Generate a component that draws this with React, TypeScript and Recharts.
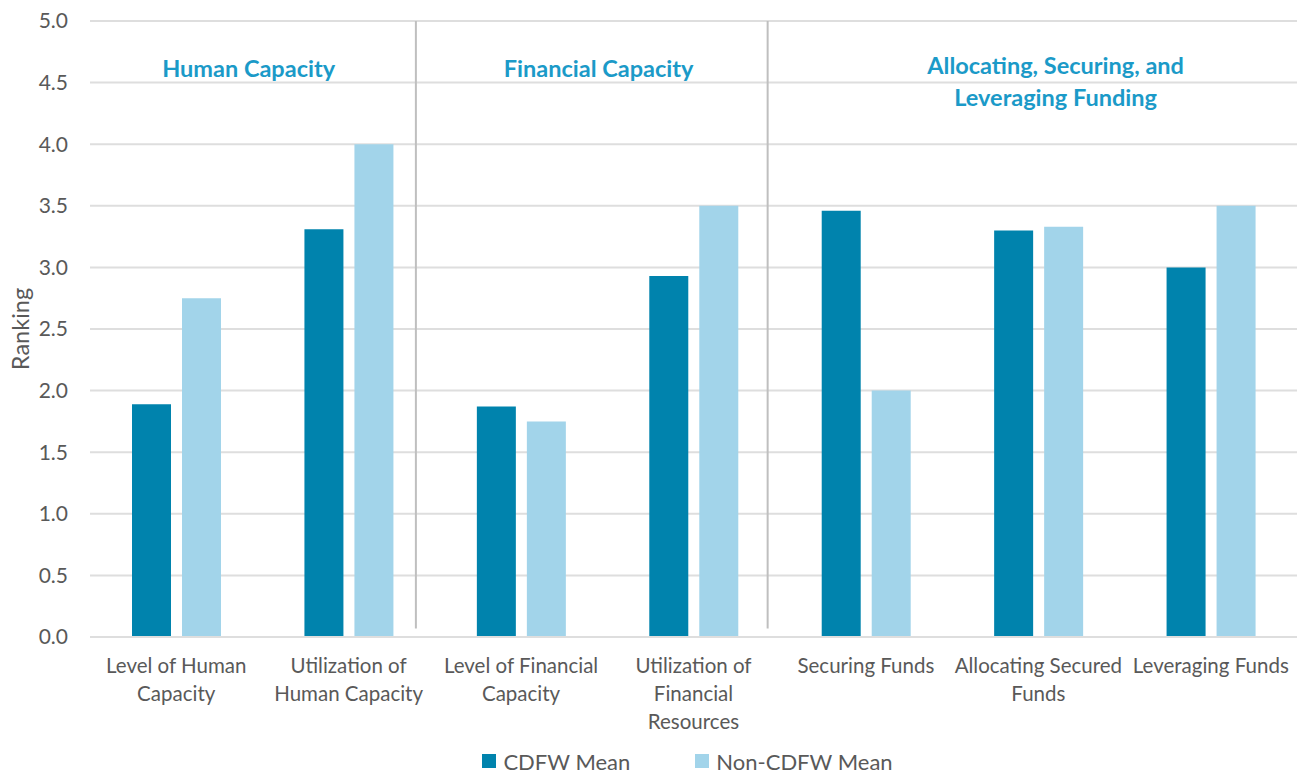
import {
  BarChart,
  Bar,
  XAxis,
  YAxis,
  CartesianGrid,
  Legend,
  ReferenceLine,
  ReferenceDot,
} from "recharts";

const categories = [
  "Level of Human\nCapacity",
  "Utilization of\nHuman Capacity",
  "Level of Financial\nCapacity",
  "Utilization of\nFinancial\nResources",
  "Securing Funds",
  "Allocating Secured\nFunds",
  "Leveraging Funds",
];
const cdfwMean = [1.89, 3.31, 1.87, 2.93, 3.46, 3.3, 3.0];
const nonCdfwMean = [2.75, 4.0, 1.75, 3.5, 2.0, 3.33, 3.5];
const yTicks = [0, 0.5, 1, 1.5, 2, 2.5, 3, 3.5, 4, 4.5, 5];

// section headings, placed in category units along the x axis
const sectionTitles = [
  "Human Capacity",
  "Financial Capacity",
  "Allocating, Securing, and\nLeveraging Funding",
];
const sectionTitleX = [0.92, 2.95, 5.6];
const sectionTitleY = [4.62, 4.62, 4.51];
const dividerX = [1.89, 3.93];

const DARK = "#0083ad";
const LIGHT = "#a2d4ea";
const TEXT = "#595959";
const TITLE = "#1b9ac8";
const FONT = "Lato, 'Open Sans', sans-serif";

const data = categories.map((name, i) => ({
  name,
  slot: i + 0.5,
  cdfw: cdfwMean[i],
  nonCdfw: nonCdfwMean[i],
}));

const CategoryTick = (props: any) => {
  const { x, y, payload } = props;
  const lines = String(payload.value).split("\n");
  return (
    <text
      x={x}
      y={y}
      textAnchor="middle"
      fill={TEXT}
      fontSize={20.5}
      fontFamily={FONT}
    >
      {lines.map((line, i) => (
        <tspan key={i} x={x} dy={28}>
          {line}
        </tspan>
      ))}
    </text>
  );
};

const SectionTitle = (text: string) => (props: any) => {
  const { viewBox } = props;
  const lines = text.split("\n");
  const cx = viewBox.x + (viewBox.width || 0) / 2;
  const cy = viewBox.y + (viewBox.height || 0) / 2;
  const start = cy - ((lines.length - 1) * 32) / 2;
  return (
    <text
      x={cx}
      y={start}
      textAnchor="middle"
      dominantBaseline="central"
      fill={TITLE}
      fontSize={23.5}
      fontWeight={700}
      fontFamily={FONT}
    >
      {lines.map((line, i) => (
        <tspan key={i} x={cx} dy={i === 0 ? 0 : 32}>
          {line}
        </tspan>
      ))}
    </text>
  );
};

const RankingLabel = (props: any) => {
  const { viewBox } = props;
  const cx = 20;
  const cy = viewBox.y + viewBox.height / 2;
  return (
    <text
      x={cx}
      y={cy}
      transform={`rotate(-90 ${cx} ${cy})`}
      textAnchor="middle"
      dominantBaseline="central"
      fill={TEXT}
      fontSize={23.5}
      fontFamily={FONT}
    >
      Ranking
    </text>
  );
};

const LegendContent = () => (
  <div
    style={{
      display: "flex",
      justifyContent: "center",
      alignItems: "center",
      height: 26,
      paddingLeft: 78,
      fontFamily: FONT,
      fontSize: 22,
      color: TEXT,
      gap: 65,
    }}
  >
    {[
      { label: "CDFW Mean", color: DARK },
      { label: "Non-CDFW Mean", color: LIGHT },
    ].map((item) => (
      <div key={item.label} style={{ display: "flex", alignItems: "center" }}>
        <span
          style={{
            width: 14,
            height: 14,
            background: item.color,
            display: "inline-block",
            marginRight: 7,
          }}
        />
        {item.label}
      </div>
    ))}
  </div>
);

export default function App() {
  return (
    <div style={{ width: 1304, height: 774, background: "#fff" }}>
      <style>{`body{margin:0}`}</style>
      <BarChart
        width={1304}
        height={774}
        data={data}
        margin={{ top: 21, right: 7, bottom: 0, left: 0 }}
        barCategoryGap={42}
        barGap={11}
      >
        <CartesianGrid
          vertical={false}
          stroke="#dedede"
          strokeWidth={2}
        />
        <XAxis
          dataKey="name"
          height={111}
          interval={0}
          tickLine={false}
          axisLine={{ stroke: "#dedede", strokeWidth: 2 }}
          tick={<CategoryTick />}
        />
        <XAxis
          xAxisId="pos"
          dataKey="slot"
          type="number"
          scale="linear"
          domain={[0, categories.length]}
          allowDataOverflow
          hide
        />
        <YAxis
          width={90}
          domain={[0, 5]}
          ticks={yTicks}
          tickFormatter={(v: number) => v.toFixed(1)}
          tickLine={false}
          axisLine={false}
          tickMargin={16}
          tick={{ fill: TEXT, fontSize: 21, fontFamily: FONT }}
          label={<RankingLabel />}
        />
        <Legend verticalAlign="bottom" content={<LegendContent />} />
        <Bar dataKey="cdfw" name="CDFW Mean" fill={DARK} isAnimationActive={false} />
        <Bar
          dataKey="nonCdfw"
          name="Non-CDFW Mean"
          fill={LIGHT}
          isAnimationActive={false}
        />
        {dividerX.map((x) => (
          <ReferenceLine
            key={x}
            xAxisId="pos"
            segment={[
              { x, y: 0.07 },
              { x, y: 5 },
            ]}
            stroke="#bfbfbf"
            strokeWidth={2}
          />
        ))}
        {sectionTitles.map((t, i) => (
          <ReferenceDot
            key={t}
            xAxisId="pos"
            x={sectionTitleX[i]}
            y={sectionTitleY[i]}
            r={0}
            stroke="none"
            fill="none"
            label={SectionTitle(t)}
          />
        ))}
      </BarChart>
    </div>
  );
}
